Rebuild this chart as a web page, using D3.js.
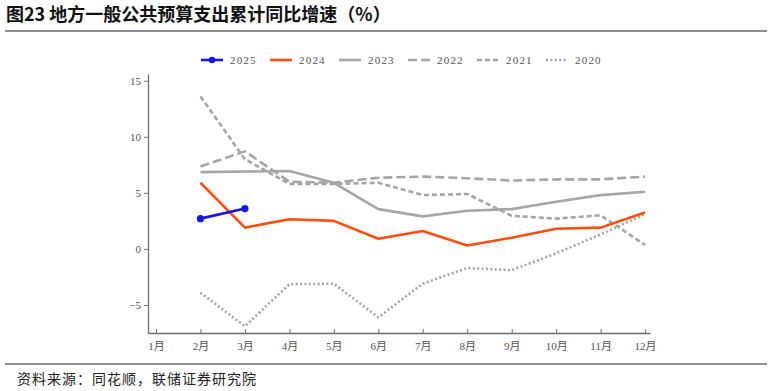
<!DOCTYPE html>
<html>
<head>
<meta charset="utf-8">
<script src="https://cdn.jsdelivr.net/npm/d3@7"></script>
<style>
  body { margin: 0; background: #fff; }
  svg { display: block; }
</style>
</head>
<body>
<div id="chart"></div>
<script>
const width = 772, height = 391;

// data (cumulative yoy %, months 2..12)
const months = [1, 2, 3, 4, 5, 6, 7, 8, 9, 10, 11, 12];
const monthLabels = months.map(m => m + '月');
const yTicks = [-5, 0, 5, 10, 15];

const s2025 = [2.7, 3.6];
const s2024 = [5.9, 1.9, 2.65, 2.5, 0.9, 1.6, 0.3, 1.0, 1.8, 1.9, 3.25];
const s2023 = [6.85, 6.9, 6.95, 5.9, 3.55, 2.9, 3.4, 3.55, 4.2, 4.8, 5.1];
const s2022 = [7.35, 8.7, 6.0, 5.9, 6.35, 6.45, 6.3, 6.1, 6.2, 6.2, 6.45];
const s2021 = [13.6, 8.0, 5.8, 5.8, 5.9, 4.8, 4.9, 2.95, 2.7, 3.0, 0.35];
const s2020 = [-3.9, -6.9, -3.15, -3.1, -6.1, -3.1, -1.7, -1.9, -0.4, 1.3, 3.1];

const series = [
  { name: '2025', values: s2025, color: '#1414e6', dash: null, dots: true },
  { name: '2024', values: s2024, color: '#ff4d0d', dash: null },
  { name: '2023', values: s2023, color: '#a6a6a6', dash: null },
  { name: '2022', values: s2022, color: '#a6a6a6', dash: '9,4' },
  { name: '2021', values: s2021, color: '#a6a6a6', dash: '5,3' },
  { name: '2020', values: s2020, color: '#a6a6a6', dash: '2,2.4' }
];

const svg = d3.select('#chart').append('svg')
  .attr('width', width).attr('height', height);

// title and rules
svg.append('text')
  .attr('x', 6).attr('y', 21)
  .attr('font-family', '"Noto Sans CJK SC", sans-serif')
  .attr('font-weight', 'bold').attr('font-size', 18)
  .attr('fill', '#111')
  .text('图23 地方一般公共预算支出累计同比增速（%）');
svg.append('line').attr('x1', 5).attr('x2', 767).attr('y1', 31).attr('y2', 31)
  .attr('stroke', '#222').attr('stroke-width', 1);
svg.append('line').attr('x1', 5).attr('x2', 767).attr('y1', 364).attr('y2', 364)
  .attr('stroke', '#222').attr('stroke-width', 1);
svg.append('text')
  .attr('x', 17).attr('y', 384)
  .attr('font-family', '"Noto Sans CJK SC", sans-serif')
  .attr('font-size', 14).attr('letter-spacing', 1)
  .attr('fill', '#222')
  .text('资料来源：同花顺，联储证券研究院');

// scales
const x = d3.scaleLinear().domain([0.82, 12.11]).range([148, 650]);
const y = d3.scaleLinear().domain([-7.5, 15.6]).range([333, 74]);

const axisColor = '#6e6e6e';
const tickFont = '"Liberation Serif", "DejaVu Serif", "Noto Sans CJK SC", serif';

const xAxis = svg.append('g')
  .attr('transform', `translate(0,${y.range()[0]})`)
  .call(d3.axisBottom(x).tickValues(months).tickFormat((d, i) => monthLabels[i])
    .tickSizeInner(-4).tickSizeOuter(0).tickPadding(9));
const yAxis = svg.append('g')
  .attr('transform', `translate(${x.range()[0]},0)`)
  .call(d3.axisLeft(y).tickValues(yTicks).tickFormat(d => d < 0 ? '−' + Math.abs(d) : d)
    .tickSizeInner(4).tickSizeOuter(0).tickPadding(3));

[xAxis, yAxis].forEach(g => {
  g.select('.domain').attr('stroke', axisColor).attr('stroke-width', 1.3);
  g.selectAll('.tick line').attr('stroke', axisColor);
  g.selectAll('.tick text').attr('fill', '#555').attr('font-size', 11)
    .attr('font-family', tickFont);
});

// lines
const line = d3.line()
  .x((d, i) => x(months[i + 1]))
  .y(d => y(d));

series.slice().reverse().forEach(s => {
  svg.append('path')
    .datum(s.values)
    .attr('fill', 'none')
    .attr('stroke', s.color)
    .attr('stroke-width', 2.6)
    .attr('stroke-dasharray', s.dash)
    .attr('stroke-linejoin', 'round')
    .attr('d', line);
  if (s.dots) {
    svg.selectAll(null).data(s.values).enter().append('circle')
      .attr('cx', (d, i) => x(months[i + 1]))
      .attr('cy', d => y(d))
      .attr('r', 3.6)
      .attr('fill', s.color);
  }
});

// legend
const legend = svg.append('g').attr('transform', 'translate(201,60)');
const item = legend.selectAll('g').data(series).enter().append('g')
  .attr('transform', (d, i) => `translate(${i * 69},0)`);
item.append('line')
  .attr('x1', 0).attr('x2', 22).attr('y1', 0).attr('y2', 0)
  .attr('stroke', d => d.color).attr('stroke-width', 2.6)
  .attr('stroke-dasharray', d => d.dash);
item.filter(d => d.dots).append('circle')
  .attr('cx', 11).attr('cy', 0).attr('r', 3.2).attr('fill', d => d.color);
item.append('text')
  .attr('x', 29).attr('y', 4)
  .attr('font-family', tickFont).attr('font-size', 11)
  .attr('letter-spacing', 1.2)
  .attr('fill', '#555')
  .text(d => d.name);
</script>
</body>
</html>
